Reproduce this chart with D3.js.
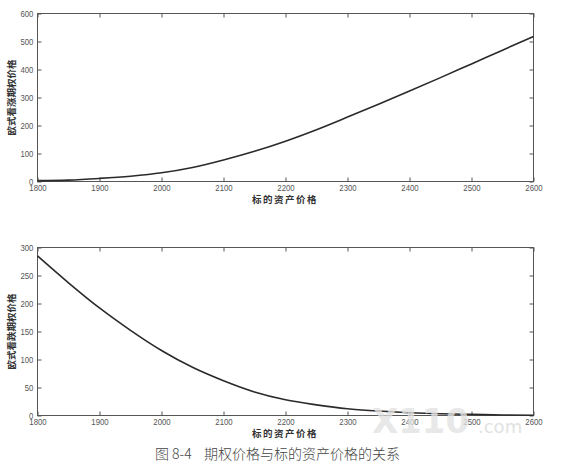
<!DOCTYPE html>
<html><head><meta charset="utf-8">
<script src="https://cdn.jsdelivr.net/npm/d3@7"></script>
<style>body{margin:0;background:#fff}svg{display:block}</style>
</head><body>
<script>
const prices = [1800,1850,1900,1950,2000,2050,2100,2150,2200,2250,2300,2350,2400,2450,2500,2550,2600];
const callValues = [3,5,11,19,31,50,77,108,144,185,230,276,323,371,420,469,518];
const putValues = [285,237,192,152,116,86,62,42,28,19,12,8,5,3,2,1,0.5];
const xTicks = [1800,1900,2000,2100,2200,2300,2400,2500,2600];
const callTicks = [0,100,200,300,400,500,600];
const putTicks = [0,50,100,150,200,250,300];

const W = 568, H = 467;
const svg = d3.select("body").append("svg").attr("width", W).attr("height", H);

function panel(top, bottom, yMax, yTicks, vals, ylabel) {
  const x = d3.scaleLinear().domain([1800,2600]).range([37.5, 533.5]);
  const y = d3.scaleLinear().domain([0,yMax]).range([bottom, top]);
  const g = svg.append("g");
  const axCol = "#555";
  g.append("rect").attr("x", x(1800)).attr("y", top).attr("width", x(2600)-x(1800)).attr("height", bottom-top)
    .attr("fill","none").attr("stroke",axCol).attr("stroke-width",1);
  const bx = d3.axisBottom(x).tickValues(xTicks).tickSizeInner(-4).tickSizeOuter(0).tickPadding(3).tickFormat(d3.format("d"));
  const tx = d3.axisTop(x).tickValues(xTicks).tickSizeInner(-4).tickSizeOuter(0).tickFormat("");
  const ly = d3.axisLeft(y).tickValues(yTicks).tickSizeInner(-4).tickSizeOuter(0).tickPadding(5).tickFormat(d3.format("d"));
  const ry = d3.axisRight(y).tickValues(yTicks).tickSizeInner(-4).tickSizeOuter(0).tickFormat("");
  const style = sel => {
    sel.select(".domain").remove();
    sel.selectAll("line").attr("stroke", axCol);
    sel.selectAll("text").attr("fill","#555").style("font-family","'Liberation Sans',sans-serif").style("font-size","9.5px")
      .attr("transform","scale(0.82,1)");
  };
  g.append("g").attr("transform",`translate(0,${bottom})`).call(bx).call(style);
  g.append("g").attr("transform",`translate(0,${top})`).call(tx).call(style);
  g.append("g").attr("transform",`translate(${x(1800)},0)`).call(ly).call(style);
  g.append("g").attr("transform",`translate(${x(2600)},0)`).call(ry).call(style);
  const line = d3.line().x((d,i)=>x(prices[i])).y(d=>y(d)).curve(d3.curveMonotoneX);
  g.append("path").datum(vals).attr("d", line).attr("fill","none").attr("stroke","#2a2a2a").attr("stroke-width",1.6);
  g.append("text").attr("transform",`translate(15,${(top+bottom)/2}) rotate(-90)`).attr("text-anchor","middle")
    .style("font-family","'Noto Sans CJK SC',sans-serif").style("font-size","9.5px").style("font-weight","bold").attr("fill","#333")
    .text(ylabel);
  g.append("text").attr("x",285).attr("y",bottom+21.5).attr("text-anchor","middle")
    .style("font-family","'Noto Sans CJK SC',sans-serif").style("font-size","9.5px").style("font-weight","bold").attr("fill","#333")
    .attr("letter-spacing","1.5px")
    .text("标的资产价格");
}

panel(13.5, 181.5, 600, callTicks, callValues, "欧式看涨期权价格");
panel(247.5, 415.5, 300, putTicks, putValues, "欧式看跌期权价格");

// watermark
svg.append("text").attr("x",372).attr("y",433).style("font-family","'DejaVu Sans',sans-serif").style("font-size","34px").style("font-weight","bold")
  .attr("fill","#e2e2e2").attr("fill-opacity",0.8).text("X110");
svg.append("text").attr("x",478).attr("y",433).style("font-family","'DejaVu Sans',sans-serif").style("font-size","18px")
  .attr("fill","#e2e2e2").text(".com");

svg.append("text").attr("x",155).attr("y",459)
  .style("font-family","'Noto Sans CJK SC',sans-serif").style("font-size","14px").style("font-weight","300").attr("fill","#444")
  .attr("xml:space","preserve")
  .text("图 8-4    期权价格与标的资产价格的关系");
</script>
</body></html>
